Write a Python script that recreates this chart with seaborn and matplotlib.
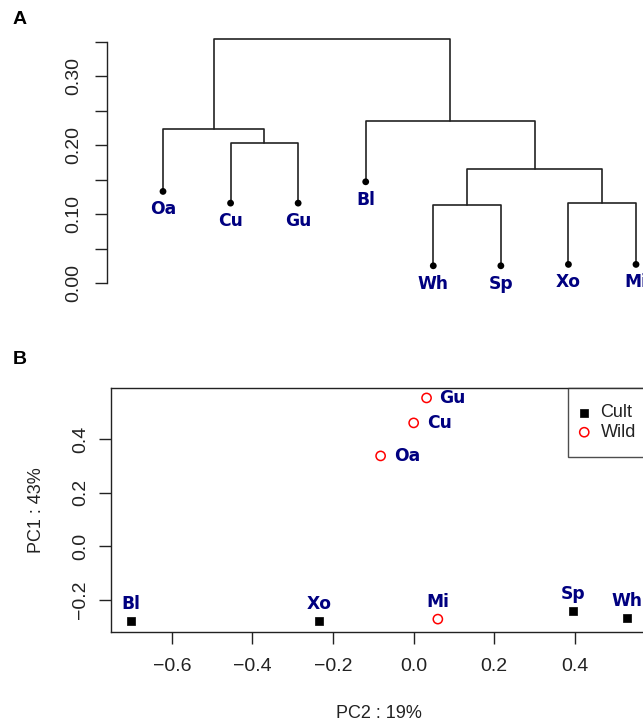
import pandas as pd
import matplotlib
matplotlib.use("Agg")
import matplotlib.pyplot as plt
import seaborn as sns

# Panel A: hierarchical clustering (leaf order left to right)
leaves = ["Oa", "Cu", "Gu", "Bl", "Wh", "Sp", "Xo", "Mi"]
leaf_heights = [0.133, 0.116, 0.116, 0.147, 0.025, 0.025, 0.027, 0.027]
# merges: (left node, right node, height); leaves are 0-7, new nodes get 8, 9, ...
merges = [(1, 2, 0.204), (0, 8, 0.223), (4, 5, 0.113), (6, 7, 0.116),
          (10, 11, 0.166), (3, 12, 0.235), (9, 13, 0.355)]
dend_ticks = [0.00, 0.05, 0.10, 0.15, 0.20, 0.25, 0.30, 0.35]
dend_labelled = [0.00, 0.10, 0.20, 0.30]

# Panel B: PCA scores
samples = ["Bl", "Xo", "Mi", "Sp", "Wh", "Gu", "Cu", "Oa"]
pc2 = [-0.702, -0.235, 0.060, 0.395, 0.529, 0.032, 0.000, -0.082]
pc1 = [-0.278, -0.278, -0.271, -0.241, -0.267, 0.553, 0.460, 0.337]
group = ["Cult", "Cult", "Wild", "Cult", "Cult", "Wild", "Wild", "Wild"]
label_right = ["Gu", "Cu", "Oa"]   # the rest are labelled above the point
pc2_ticks = [-0.6, -0.4, -0.2, 0.0, 0.2, 0.4]
pc1_ticks = [-0.2, 0.0, 0.2, 0.4]

sns.set_style("white")
plt.rcParams["font.family"] = ["Liberation Sans", "DejaVu Sans"]

ink = "#222222"
navy = "#000080"
lab_font = dict(family="DejaVu Sans", fontweight="bold", fontsize=12.3, color=navy)

fig = plt.figure(figsize=(6.43, 7.21), dpi=100)
W, H = 643, 721

def px_axes(left, top, right, bottom):
    return fig.add_axes([left / W, 1 - bottom / H, (right - left) / W, (bottom - top) / H])

# ---------------- Panel A ----------------
axA = px_axes(107, 30, 660, 300)

node_x = [i + 1 for i in range(len(leaves))]
node_h = list(leaf_heights)
rows = []
for k, (a, b, h) in enumerate(merges):
    for xx, yy in [(node_x[a], node_h[a]), (node_x[a], h), (node_x[b], h), (node_x[b], node_h[b])]:
        rows.append({"seg": k, "x": xx, "y": yy})
    node_x.append((node_x[a] + node_x[b]) / 2)
    node_h.append(h)
seg_df = pd.DataFrame(rows)

sns.lineplot(data=seg_df, x="x", y="y", units="seg", estimator=None, sort=False,
             color=ink, lw=1.2, ax=axA)
leaf_df = pd.DataFrame({"x": node_x[:len(leaves)], "y": leaf_heights, "name": leaves})
sns.scatterplot(data=leaf_df, x="x", y="y", color="black", s=24, edgecolor="none", ax=axA, zorder=3)
for _, r in leaf_df.iterrows():
    axA.annotate(r["name"], (r["x"], r["y"]), xytext=(0, -13), textcoords="offset points",
                 ha="center", va="center", annotation_clip=False, **lab_font)

axA.set_xlim(1 - 56 / 67.57, 8 + 24 / 67.57)
axA.set_ylim(-17 / 688.6, 0.35 + 12 / 688.6)
axA.set_xlabel("")
axA.set_ylabel("")
axA.set_xticks([])
axA.set_yticks(dend_ticks)
axA.set_yticklabels([f"{t:.2f}" if t in dend_labelled else "" for t in dend_ticks])
for s in ["top", "right", "bottom"]:
    axA.spines[s].set_visible(False)
axA.spines["left"].set_bounds(0, 0.35)
axA.spines["left"].set_color(ink)
axA.spines["left"].set_linewidth(1.0)
axA.tick_params(axis="y", direction="out", length=9, width=1.0, color=ink,
                labelsize=14, labelcolor=ink, pad=8.5, left=True)
for t in axA.get_yticklabels():
    t.set_rotation(90)
    t.set_va("center")
    t.set_ha("right")

# ---------------- Panel B ----------------
axB = px_axes(111, 388, 647, 632)
pca_df = pd.DataFrame({"pc2": pc2, "pc1": pc1, "group": group, "name": samples})

sns.scatterplot(data=pca_df[pca_df["group"] == "Cult"], x="pc2", y="pc1", marker="s",
                color="black", s=36, edgecolor="black", linewidth=0.5, label="Cult", ax=axB)
sns.scatterplot(data=pca_df[pca_df["group"] == "Wild"], x="pc2", y="pc1", marker="o",
                color="red", facecolor="none", edgecolor="red", s=44, linewidth=1.1,
                label="Wild", ax=axB)

for _, r in pca_df.iterrows():
    if r["name"] in label_right:
        axB.annotate(r["name"], (r["pc2"], r["pc1"]), xytext=(9.4, 0), textcoords="offset points",
                     ha="left", va="center", **lab_font)
    else:
        axB.annotate(r["name"], (r["pc2"], r["pc1"]), xytext=(0, 12.2), textcoords="offset points",
                     ha="center", va="center", **lab_font)

axB.set_xlim(-0.751, 0.579)
axB.set_ylim(-0.319, 0.590)
axB.set_xticks(pc2_ticks)
axB.set_xticklabels([f"{t:.1f}".replace("-", "\u2212") for t in pc2_ticks])
axB.set_yticks(pc1_ticks)
axB.set_yticklabels([f"{t:.1f}".replace("-", "\u2212") for t in pc1_ticks])
axB.tick_params(axis="both", direction="out", length=8.5, width=1.0, color=ink,
                labelsize=14, labelcolor=ink, bottom=True, left=True)
axB.tick_params(axis="x", pad=10.5)
axB.tick_params(axis="y", pad=7.5)
for t in axB.get_yticklabels():
    t.set_rotation(90)
    t.set_va("center")
    t.set_ha("right")
for s in axB.spines.values():
    s.set_color(ink)
    s.set_linewidth(1.0)
    s.set_visible(True)
axB.set_xlabel("PC2 : 19%", fontsize=13, color=ink, labelpad=21)
axB.set_ylabel("PC1 : 43%", fontsize=13, color=ink, labelpad=19.5)

leg = axB.legend(loc="upper left", bbox_to_anchor=((568 - 111) / 536, 1.0), borderaxespad=0,
                 fontsize=13, frameon=True, fancybox=False, handlelength=0.0,
                 handletextpad=0.9, borderpad=0.9, labelspacing=0.15)
leg.get_frame().set_edgecolor(ink)
leg.get_frame().set_linewidth(1.0)
for t in leg.get_texts():
    t.set_color(ink)

fig.text(13 / W, 1 - 20 / H, "A", fontsize=14, fontweight="bold", va="center", ha="left", color="black")
fig.text(13 / W, 1 - 360 / H, "B", fontsize=14, fontweight="bold", va="center", ha="left", color="black")

fig.savefig("out.png", dpi=100)
